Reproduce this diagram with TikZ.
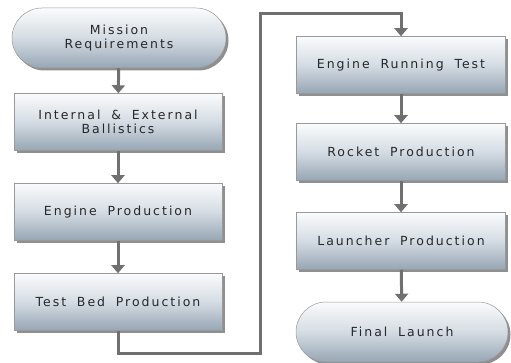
\documentclass[tikz,border=0pt]{standalone}
\usepackage{fontspec}
\setmainfont{DejaVu Sans}[LetterSpace=16,WordSpace=1.8]
\usetikzlibrary{shapes.misc,shadows,arrows.meta}
\definecolor{boxtop}{RGB}{250,251,252}
\definecolor{boxmid}{RGB}{212,220,227}
\definecolor{boxbot}{RGB}{150,166,180}
\definecolor{linegray}{RGB}{112,112,112}
\definecolor{txt}{RGB}{40,40,40}
\tikzset{
  basebox/.style={draw=gray!80, line width=0.5pt, top color=boxtop, bottom color=boxbot, middle color=boxmid,
    drop shadow={shadow xshift=2.5pt, shadow yshift=-2.5pt, fill=black!55, opacity=0.8},
    text=txt, font=\fontsize{12.5}{13.5}\selectfont, align=center, inner sep=0pt},
  procbox/.style={basebox, rectangle, minimum width=208pt, minimum height=57pt},
  termbox/.style={basebox, rounded rectangle, minimum width=214pt, minimum height=60pt},
  flow/.style={draw=linegray, line width=3pt, -{Triangle[width=13pt,length=8pt]}},
}
\begin{document}
\begin{tikzpicture}[x=1pt,y=-1pt]
\useasboundingbox (0,0) rectangle (511,363);
\node[termbox] (mission) at (119,38) {Mission\\Requirements};
\node[procbox] (ballist) at (118,122) {Internal \& External\\Ballistics};
\node[procbox] (engprod) at (118,212) {Engine Production};
\node[procbox] (testbed) at (118,302) {Test Bed Production};
\node[procbox, minimum width=209pt] (engrun) at (401,65) {Engine Running Test};
\node[procbox, minimum width=209pt] (rocket) at (401,152) {Rocket Production};
\node[procbox, minimum width=209pt] (launch) at (401,241) {Launcher Production};
\node[termbox, minimum width=212pt] (final) at (402,332) {Final Launch};
\coordinate (c1) at (118,353);
\coordinate (c2) at (260,353);
\coordinate (c3) at (260,14);
\coordinate (c4) at (401,14);
\draw[flow] (mission) -- (ballist);
\draw[flow] (ballist) -- (engprod);
\draw[flow] (engprod) -- (testbed);
\draw[flow] (testbed.south) -- (c1) -- (c2) -- (c3) -- (c4) -- (engrun.north);
\draw[flow] (engrun) -- (rocket);
\draw[flow] (rocket) -- (launch);
\draw[flow] (launch) -- (final);
\end{tikzpicture}
\end{document}
